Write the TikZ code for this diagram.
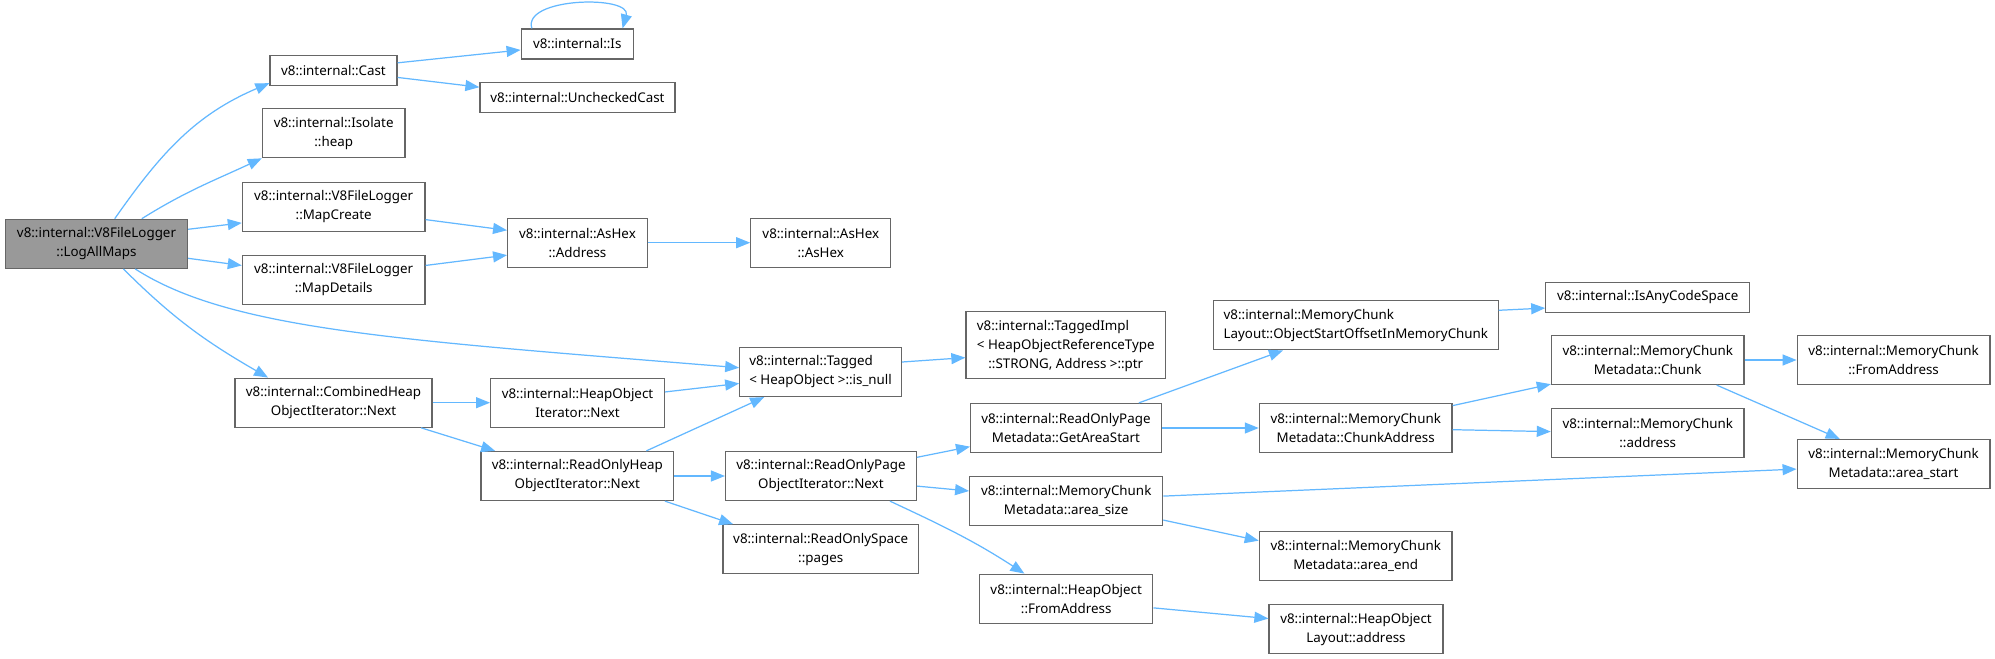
\documentclass[tikz,border=0pt]{standalone}
\usepackage{fontspec}
\setmainfont{Noto Sans}
\usepackage{xcolor}
\usepackage{tikz}
\usetikzlibrary{arrows.meta}
\definecolor{edgeblue}{HTML}{63B8FF}
\definecolor{boxgray}{HTML}{666666}
\definecolor{rootgray}{HTML}{999999}
\newcommand{\dpx}{0.02cm}
\tikzset{
  fn/.style={draw=boxgray,line width=0.7pt,fill=white,rectangle,inner sep=0pt,align=center,
             font=\fontsize{7.6}{10.8}\selectfont,minimum height=49*\dpx},
  one/.style={minimum height=30*\dpx},
  three/.style={minimum height=67*\dpx},
  root/.style={fill=rootgray},
  call/.style={draw=edgeblue,line width=0.7pt,-{Triangle[length=0.28cm,width=0.22cm]}}
}

\begin{document}
\begin{tikzpicture}[x=0.02cm,y=-0.02cm]
  \useasboundingbox (0,0) rectangle (1995,659);
  \fill[white] (0,0) rectangle (1995,659);
  \node[fn,root,minimum width=182*\dpx] (logall) at (96.5,243.8) {v8::internal::V8FileLogger\\::LogAllMaps};
  \node[fn,one,minimum width=127*\dpx] (cast) at (333.5,70.7) {v8::internal::Cast};
  \node[fn,one,minimum width=112*\dpx] (is) at (577.2,44) {v8::internal::Is};
  \node[fn,one,minimum width=195*\dpx] (unchecked) at (577.5,97.5) {v8::internal::UncheckedCast};
  \node[fn,minimum width=142.5*\dpx] (heap) at (333.7,133.2) {v8::internal::Isolate\\::heap};
  \node[fn,minimum width=182.6*\dpx] (mapcreate) at (333.7,206.7) {v8::internal::V8FileLogger\\::MapCreate};
  \node[fn,minimum width=182.6*\dpx] (mapdetails) at (333.7,280) {v8::internal::V8FileLogger\\::MapDetails};
  \node[fn,minimum width=139.7*\dpx] (hexaddr) at (577.5,242.7) {v8::internal::AsHex\\::Address};
  \node[fn,minimum width=140*\dpx] (ashex) at (820.8,242.7) {v8::internal::AsHex\\::AsHex};
  \node[fn,align=left,minimum width=161.6*\dpx] (isnull) at (820.6,372) {v8::internal::Tagged\\< HeapObject >::is\_null};
  \node[fn,three,minimum width=199.7*\dpx] (taggedimpl) at (1065.8,345.3)
       {\begin{tabular}{@{}l@{}}v8::internal::TaggedImpl\\< HeapObjectReferenceType\\
        \multicolumn{1}{@{}c@{}}{::STRONG, Address >::ptr}\end{tabular}};
  \node[fn,minimum width=197*\dpx] (combined) at (333.5,402.7) {v8::internal::CombinedHeap\\ObjectIterator::Next};
  \node[fn,minimum width=173.7*\dpx] (heapiter) at (577.5,402.7) {v8::internal::HeapObject\\Iterator::Next};
  \node[fn,minimum width=192.6*\dpx] (roheapiter) at (577.3,476) {v8::internal::ReadOnlyHeap\\ObjectIterator::Next};
  \node[fn,minimum width=190.7*\dpx] (ropageiter) at (820.9,476) {v8::internal::ReadOnlyPage\\ObjectIterator::Next};
  \node[fn,minimum width=195.5*\dpx] (pages) at (820.7,549.3) {v8::internal::ReadOnlySpace\\::pages};
  \node[fn,minimum width=190.6*\dpx] (getareastart) at (1065.9,428) {v8::internal::ReadOnlyPage\\Metadata::GetAreaStart};
  \node[fn,minimum width=193*\dpx] (areasize) at (1066.2,501.2) {v8::internal::MemoryChunk\\Metadata::area\_size};
  \node[fn,minimum width=173.3*\dpx] (hofromaddr) at (1066.2,598.7) {v8::internal::HeapObject\\::FromAddress};
  \node[fn,align=left,minimum width=284.4*\dpx] (startoffset) at (1355.9,325.3) {v8::internal::MemoryChunk\\Layout::ObjectStartOffsetInMemoryChunk};
  \node[fn,one,minimum width=203.8*\dpx] (anycode) at (1647.7,297.3) {v8::internal::IsAnyCodeSpace};
  \node[fn,minimum width=192.7*\dpx] (chunkaddr) at (1355.7,428) {v8::internal::MemoryChunk\\Metadata::ChunkAddress};
  \node[fn,minimum width=192.6*\dpx] (chunk) at (1647.7,360) {v8::internal::MemoryChunk\\Metadata::Chunk};
  \node[fn,minimum width=192.6*\dpx] (mcaddress) at (1647.7,433.3) {v8::internal::MemoryChunk\\::address};
  \node[fn,minimum width=192.8*\dpx] (mcfromaddr) at (1893.6,360) {v8::internal::MemoryChunk\\::FromAddress};
  \node[fn,minimum width=192.8*\dpx] (areastart) at (1893.6,464) {v8::internal::MemoryChunk\\Metadata::area\_start};
  \node[fn,minimum width=192.7*\dpx] (areaend) at (1355.7,556) {v8::internal::MemoryChunk\\Metadata::area\_end};
  \node[fn,minimum width=174*\dpx] (holayout) at (1356,629.3) {v8::internal::HeapObject\\Layout::address};

  \foreach \a/\b in {logall.9/mapcreate.190, logall.351/mapdetails.171, cast.7/is.186,
      cast.354/unchecked.174, mapcreate.352/hexaddr.170, mapdetails.9/hexaddr.190,
      hexaddr.east/ashex.west, combined.east/heapiter.west, combined.344/roheapiter.163,
      heapiter.7/isnull.188, roheapiter.20/isnull.204, roheapiter.east/ropageiter.west,
      roheapiter.344/pages.164, isnull.7/taggedimpl.187, ropageiter.11/getareastart.191,
      ropageiter.354/areasize.174, getareastart.19/startoffset.199,
      getareastart.east/chunkaddr.west, startoffset.6/anycode.186, chunkaddr.13/chunk.194,
      chunkaddr.359/mcaddress.179, chunk.east/mcfromaddr.west, chunk.340/areastart.155,
      areasize.3/areastart.183, areasize.349/areaend.171, hofromaddr.354/holayout.173}
    \draw[call] (\a) -- (\b);
  \draw[call] (logall.54) to[out=55,in=203] (cast.191);
  \draw[call] (logall.29) to[out=32,in=205] (heap.south west);
  \draw[call] (logall.327) .. controls (230,330) and (400,340) .. (isnull.177);
  \draw[call] (logall.317) to[out=-45,in=150] (combined.159);
  \draw[call] (ropageiter.340) to[out=-25,in=147] (hofromaddr.149);
  \draw[call] (is.161) .. controls (522,-3) and (632,-5) .. (is.19);
\end{tikzpicture}
\end{document}
